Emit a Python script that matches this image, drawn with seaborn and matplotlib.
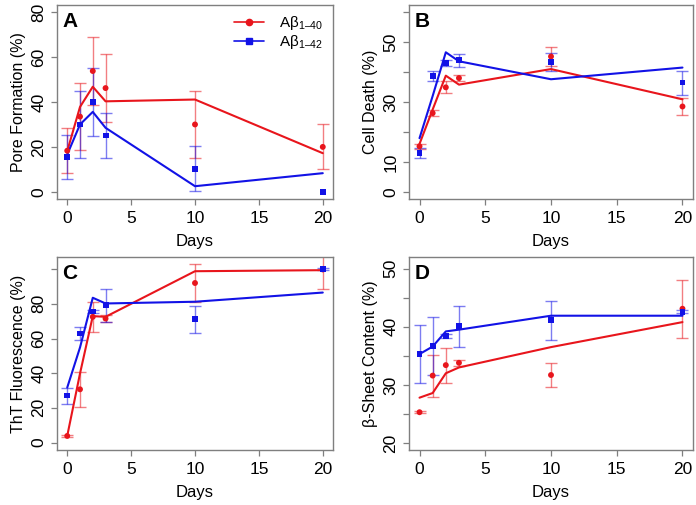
import numpy as np
import pandas as pd
import matplotlib
matplotlib.use("Agg")
import matplotlib.pyplot as plt
from matplotlib.lines import Line2D
import seaborn as sns

sns.set_style("white")
plt.rcParams['font.family'] = ['Liberation Sans', 'DejaVu Sans']
plt.rcParams['mathtext.fontset'] = 'custom'
plt.rcParams['mathtext.rm'] = 'Liberation Sans'
plt.rcParams['text.color'] = 'black'
plt.rcParams['axes.labelcolor'] = 'black'
plt.rcParams['xtick.labelcolor'] = 'black'
plt.rcParams['ytick.labelcolor'] = 'black'

days = [0, 1, 2, 3, 10, 20]

# panel A - pore formation
pore_40 = [18.3, 33.5, 53.8, 46.2, 30.0, 20.0]
pore_40_err = [10, 15, 15, 15, 15, 10]
pore_40_fit = [18.1, 37.8, 46.8, 40.3, 41.1, 17.2]
pore_42 = [15.5, 30.0, 40.0, 25.1, 10.2, 0.0]
pore_42_err = [10, 15, 15, 10, 10, 0]
pore_42_fit = [16.6, 30.0, 35.6, 28.5, 2.5, 8.3]

# panel B - cell death
death_40 = [15.2, 26.3, 34.9, 38.0, 45.2, 28.5]
death_40_err = [0.8, 1.0, 2.0, 1.0, 3.2, 3.0]
death_40_fit = [16.0, 27.5, 38.8, 35.8, 41.0, 30.9]
death_42 = [13.1, 38.7, 43.1, 44.0, 43.3, 36.5]
death_42_err = [1.7, 1.8, 1.0, 2.2, 3.0, 4.0]
death_42_fit = [17.9, 32.0, 46.6, 43.6, 37.6, 41.5]

# panel C - ThT fluorescence
tht_40 = [3.8, 30.7, 72.5, 71.5, 92.0, 99.8]
tht_40_err = [0.5, 10.0, 8.5, 2.0, 10.7, 11.0]
tht_40_fit = [3.8, 39.8, 72.9, 72.5, 98.8, 99.4]
tht_42 = [27.1, 62.9, 75.6, 79.2, 71.0, 100.0]
tht_42_err = [4.6, 4.0, 1.0, 9.4, 7.9, 0.5]
tht_42_fit = [31.7, 54.8, 83.5, 80.2, 81.2, 86.5]

# panel D - beta-sheet content
sheet_40 = [25.3, 31.6, 33.4, 33.8, 31.7, 43.1]
sheet_40_err = [0.2, 3.6, 3.0, 0.5, 2.1, 5.0]
sheet_40_fit = [27.8, 28.6, 32.0, 33.0, 36.5, 40.8]
sheet_42 = [35.3, 36.7, 38.4, 40.1, 41.1, 42.6]
sheet_42_err = [5.0, 5.0, 0.4, 3.5, 3.4, 0.3]
sheet_42_fit = [35.3, 36.6, 39.2, 39.5, 41.9, 41.9]

legend_labels = ['A\u03b2$_{\\mathregular{1\u201340}}$',
                 'A\u03b2$_{\\mathregular{1\u201342}}$']

RED = '#e8151c'
BLUE = '#1212e6'
GRAY = '#7f7f7f'

fig = plt.figure(figsize=(6.96, 5.05), dpi=100)
boxes = {
    'A': [57 / 696, 1 - 199 / 505, 276 / 696, 194 / 505],
    'B': [409 / 696, 1 - 199 / 505, 284 / 696, 194 / 505],
    'C': [57 / 696, 1 - 450 / 505, 276 / 696, 193 / 505],
    'D': [409 / 696, 1 - 450 / 505, 284 / 696, 193 / 505],
}

panels = [
    ('A', 'Pore Formation (%)', pore_40, pore_40_err, pore_40_fit,
     pore_42, pore_42_err, pore_42_fit, (-3.2, 83.2),
     [0, 20, 40, 60, 80], ['0', '20', '40', '60', '80']),
    ('B', 'Cell Death (%)', death_40, death_40_err, death_40_fit,
     death_42, death_42_err, death_42_fit, (-2.4, 62.4),
     [0, 10, 20, 30, 40, 50, 60], ['0', '10', '', '30', '', '50', '']),
    ('C', 'ThT Fluorescence (%)', tht_40, tht_40_err, tht_40_fit,
     tht_42, tht_42_err, tht_42_fit, (-4.3, 107),
     [0, 20, 40, 60, 80, 100], ['0', '20', '40', '60', '80', '']),
    ('D', '\u03b2-Sheet Content (%)', sheet_40, sheet_40_err, sheet_40_fit,
     sheet_42, sheet_42_err, sheet_42_fit, (18.8, 52.0),
     [20, 25, 30, 35, 40, 45, 50], ['20', '', '30', '', '40', '', '50']),
]


def draw_err(ax, x, y, err, color):
    # skip zero-length bars, like R's arrows() does
    keep = [i for i in range(len(x)) if err[i] > 0]
    ax.errorbar([x[i] for i in keep], [y[i] for i in keep],
                yerr=[err[i] for i in keep], fmt='none', ecolor=color,
                alpha=0.55, elinewidth=1.0, capsize=4, capthick=1.0,
                zorder=2)


for (letter, ylab, y40, e40, f40, y42, e42, f42, ylim, yt, ytl) in panels:
    ax = fig.add_axes(boxes[letter])
    df = pd.DataFrame({'day': days, 'y40': y40, 'f40': f40,
                       'y42': y42, 'f42': f42})
    draw_err(ax, days, y40, e40, RED)
    draw_err(ax, days, y42, e42, BLUE)
    sns.lineplot(data=df, x='day', y='f40', color=RED, lw=1.5, ax=ax,
                 zorder=3)
    sns.lineplot(data=df, x='day', y='f42', color=BLUE, lw=1.5, ax=ax,
                 zorder=3)
    sns.scatterplot(data=df, x='day', y='y40', color=RED, marker='o', s=18,
                    edgecolor='none', ax=ax, zorder=4)
    sns.scatterplot(data=df, x='day', y='y42', color=BLUE, marker='s', s=18,
                    edgecolor='none', ax=ax, zorder=4)

    ax.set_xlim(-0.8, 20.8)
    ax.set_ylim(*ylim)
    ax.set_xticks([0, 5, 10, 15, 20])
    ax.set_yticks(yt)
    ax.set_yticklabels(ytl, rotation=90, va='center')
    ax.set_xlabel('Days', fontsize=12, labelpad=6)
    ax.set_ylabel(ylab, fontsize=11.5, labelpad=4)
    ax.tick_params(axis='both', direction='out', length=4.5, width=0.9,
                   color=GRAY, labelsize=12.5, left=True, bottom=True)
    ax.tick_params(axis='x', pad=4)
    ax.tick_params(axis='y', pad=3)
    for sp in ax.spines.values():
        sp.set_color(GRAY)
        sp.set_linewidth(1.0)
    ax.text(0.02, 0.965, letter, transform=ax.transAxes, fontsize=15,
            fontweight='bold', va='top', ha='left')

    if letter == 'A':
        handles = [
            Line2D([], [], color=RED, marker='o', ms=4.5, lw=1.2),
            Line2D([], [], color=BLUE, marker='s', ms=4.5, lw=1.2),
        ]
        ax.legend(handles, legend_labels,
                  loc='upper right', frameon=False, fontsize=11,
                  handlelength=2.0, handletextpad=1.0,
                  borderaxespad=0.2, labelspacing=0.05)

fig.savefig('out.png', dpi=100)
